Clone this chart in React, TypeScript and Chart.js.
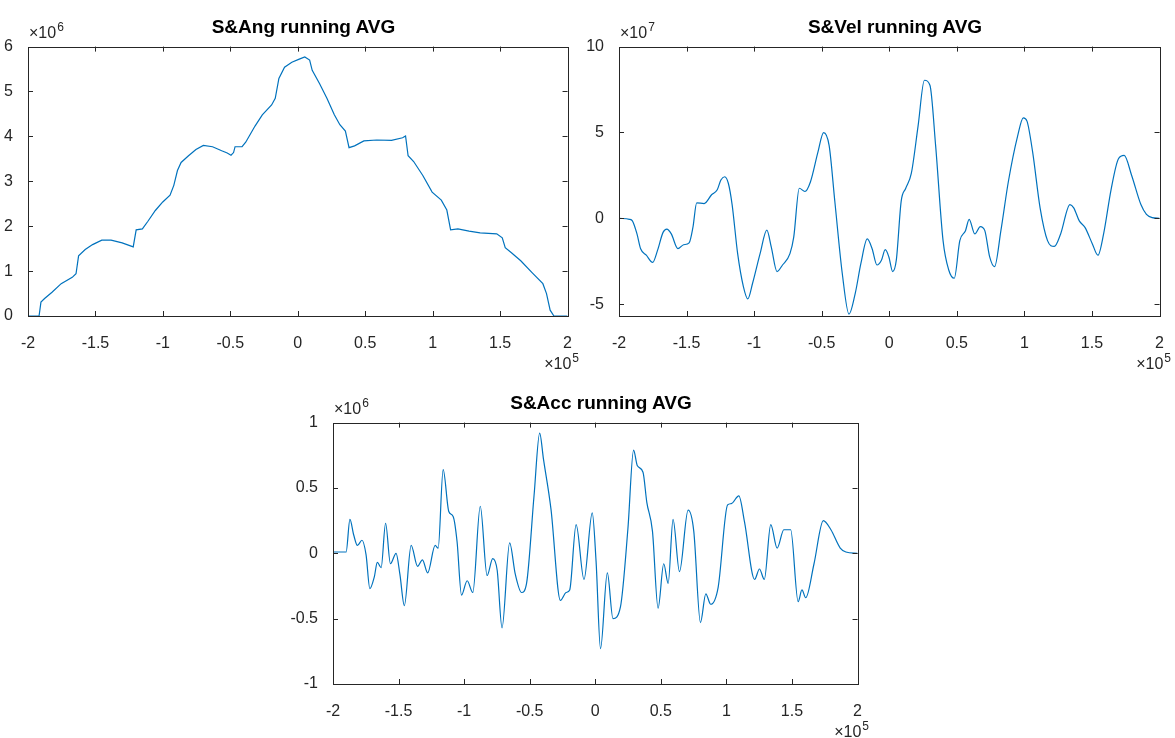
import React, { useEffect, useRef } from "react";
import { Chart, registerables } from "chart.js";

Chart.register(...registerables);

// ---- Data (x in units of 1e5) ----
const angX = [-2, -1.918, -1.904, -1.877, -1.822, -1.754, -1.672, -1.644, -1.625, -1.576, -1.521, -1.453, -1.384, -1.302, -1.22, -1.198, -1.152, -1.111, -1.056, -1.001, -0.947, -0.919, -0.892, -0.865, -0.81, -0.755, -0.7, -0.632, -0.564, -0.523, -0.495, -0.476, -0.465, -0.413, -0.386, -0.317, -0.263, -0.194, -0.167, -0.14, -0.098, -0.044, 0.011, 0.052, 0.088, 0.107, 0.161, 0.216, 0.271, 0.312, 0.353, 0.367, 0.38, 0.421, 0.49, 0.585, 0.695, 0.777, 0.799, 0.818, 0.859, 0.927, 0.996, 1.064, 1.105, 1.133, 1.187, 1.27, 1.352, 1.475, 1.516, 1.538, 1.584, 1.653, 1.735, 1.817, 1.844, 1.871, 1.899, 2];
// y in units of 1e6
const angY = [0, 0, 0.31, 0.39, 0.53, 0.72, 0.86, 0.94, 1.34, 1.48, 1.59, 1.69, 1.69, 1.63, 1.54, 1.92, 1.94, 2.11, 2.35, 2.54, 2.69, 2.91, 3.24, 3.42, 3.57, 3.71, 3.8, 3.77, 3.68, 3.63, 3.58, 3.64, 3.77, 3.77, 3.87, 4.23, 4.48, 4.7, 4.85, 5.29, 5.54, 5.65, 5.72, 5.77, 5.7, 5.47, 5.18, 4.85, 4.48, 4.26, 4.12, 3.93, 3.75, 3.79, 3.9, 3.92, 3.91, 3.97, 4.01, 3.57, 3.44, 3.13, 2.76, 2.58, 2.36, 1.92, 1.94, 1.89, 1.85, 1.83, 1.74, 1.52, 1.41, 1.23, 0.97, 0.72, 0.5, 0.13, 0, 0];

const velX = [-2, -1.923, -1.901, -1.867, -1.84, -1.798, -1.751, -1.715, -1.674, -1.646,
  -1.613, -1.564, -1.522, -1.481, -1.453, -1.425, -1.37, -1.315, -1.273, -1.246,
  -1.218, -1.191, -1.163, -1.122, -1.08, -1.047, -1.011, -0.956, -0.906, -0.873,
  -0.831, -0.79, -0.735, -0.707, -0.666, -0.624, -0.583, -0.528, -0.486, -0.445,
  -0.403, -0.348, -0.298, -0.251, -0.21, -0.163, -0.127, -0.091, -0.058, -0.03,
  -0.003, 0.025, 0.052, 0.088, 0.122, 0.163, 0.213, 0.26, 0.301, 0.343,
  0.398, 0.44, 0.481, 0.522, 0.564, 0.591, 0.633, 0.674, 0.707, 0.743,
  0.779, 0.826, 0.881, 0.95, 0.992, 1.019, 1.061, 1.116, 1.171, 1.221,
  1.268, 1.337, 1.365, 1.406, 1.448, 1.503, 1.544, 1.586, 1.641, 1.696,
  1.738, 1.793, 1.862, 1.903, 1.945, 2];
// y in units of 1e7
const velY = [0, -0.06, -0.15, -0.91, -1.77, -2.15, -2.57, -1.87, -0.82, -0.63,
  -0.91, -1.77, -1.54, -1.43, -0.53, 0.9, 0.86, 1.37, 1.66, 2.23,
  2.42, 2.04, 0.8, -2.06, -3.96, -4.69, -3.77, -2.06, -0.69, -1.68,
  -3.1, -2.72, -2.06, -1.1, 1.75, 1.56, 2.13, 3.85, 4.99, 4.23,
  0.99, -3.2, -5.58, -4.34, -2.63, -1.2, -1.77, -2.72, -2.44, -1.83,
  -2.25, -3.1, -2.44, 0.99, 1.75, 2.61, 5.37, 8.04, 7.75, 4.23,
  -1.3, -3.01, -3.49, -1.3, -0.72, -0.06, -0.91, -0.48, -0.72, -2.25,
  -2.82, -0.72, 2.13, 4.8, 5.85, 5.66, 3.85, 0.61, -1.3, -1.64,
  -0.91, 0.8, 0.61, -0.15, -0.53, -1.49, -2.15, -0.91, 1.66, 3.47,
  3.66, 2.51, 0.8, 0.23, 0.04, 0];

const accX = [-2, -1.9, -1.871, -1.842, -1.814, -1.779, -1.748, -1.719, -1.685, -1.662,
  -1.633, -1.599, -1.562, -1.519, -1.49, -1.456, -1.404, -1.355, -1.318, -1.278,
  -1.221, -1.198, -1.16, -1.117, -1.083, -1.054, -1.02, -0.977, -0.934, -0.877,
  -0.825, -0.782, -0.748, -0.711, -0.653, -0.61, -0.562, -0.524, -0.467, -0.424,
  -0.395, -0.338, -0.266, -0.223, -0.195, -0.146, -0.086, -0.023, 0.006, 0.04,
  0.092, 0.135, 0.192, 0.249, 0.292, 0.321, 0.364, 0.393, 0.436, 0.479,
  0.522, 0.556, 0.593, 0.642, 0.708, 0.751, 0.802, 0.843, 0.88, 0.937,
  1.009, 1.037, 1.095, 1.138, 1.215, 1.252, 1.289, 1.338, 1.387, 1.438,
  1.49, 1.547, 1.576, 1.605, 1.668, 1.739, 1.797, 1.868, 1.911, 2];
// y in units of 1e6
const accY = [0.01, 0.01, 0.26, 0.14, 0.06, 0.1, -0.01, -0.27, -0.18, -0.07,
  -0.11, 0.23, -0.08, 0.0, -0.16, -0.4, 0.06, -0.1, -0.05, -0.15,
  0.06, 0.04, 0.64, 0.32, 0.28, 0.09, -0.32, -0.21, -0.3, 0.36,
  -0.17, -0.04, -0.13, -0.57, 0.08, -0.16, -0.3, -0.23, 0.44, 0.92,
  0.72, 0.34, -0.36, -0.3, -0.28, 0.22, -0.2, 0.31, -0.06, -0.73,
  -0.15, -0.5, -0.41, 0.19, 0.79, 0.67, 0.62, 0.39, 0.17, -0.42,
  -0.08, -0.23, 0.26, -0.14, 0.33, 0.17, -0.53, -0.31, -0.39, -0.26,
  0.37, 0.38, 0.44, 0.24, -0.2, -0.12, -0.2, 0.22, 0.04, 0.18,
  0.18, -0.37, -0.28, -0.34, -0.08, 0.25, 0.18, 0.04, 0.01, 0];

// ---- Tick labels ----
const xTicks = [-2, -1.5, -1, -0.5, 0, 0.5, 1, 1.5, 2];
const angYTicks = [0, 1, 2, 3, 4, 5, 6];
const velYTicks = [-5, 0, 5, 10];
const accYTicks = [-1, -0.5, 0, 0.5, 1];

const titles = ["S&Ang running AVG", "S&Vel running AVG", "S&Acc running AVG"];
const yExponents = ["6", "7", "6"];
const xExponent = "5";

const AXIS_COLOR = "#262626";
const LINE_COLOR = "#0072BD";
const FONT_FAMILY = "'Liberation Sans', Arial, Helvetica, sans-serif";
const TICK_SIZE = 16;

const boxPlugin = {
  id: "matlabBox",
  afterDatasetsDraw(chart: any) {
    const { ctx, chartArea } = chart;
    const { left, right, top, bottom } = chartArea;
    const tl = 5;
    ctx.save();
    ctx.strokeStyle = AXIS_COLOR;
    ctx.lineWidth = 1;
    ctx.beginPath();
    const xs = chart.scales.x;
    xs.ticks.forEach((t: any) => {
      const p = Math.round(xs.getPixelForValue(t.value)) + 0.5;
      if (p <= left + 1 || p >= right - 1) return;
      ctx.moveTo(p, bottom);
      ctx.lineTo(p, bottom - tl);
      ctx.moveTo(p, top);
      ctx.lineTo(p, top + tl);
    });
    const ys = chart.scales.y;
    ys.ticks.forEach((t: any) => {
      const p = Math.round(ys.getPixelForValue(t.value)) + 0.5;
      if (p <= top + 1 || p >= bottom - 1) return;
      ctx.moveTo(left, p);
      ctx.lineTo(left + tl, p);
      ctx.moveTo(right, p);
      ctx.lineTo(right - tl, p);
    });
    ctx.stroke();
    ctx.strokeRect(Math.round(left) + 0.5, Math.round(top) + 0.5, Math.round(right - left), Math.round(bottom - top));
    ctx.restore();
  },
};

type PanelProps = {
  L: number; T: number; W: number; H: number; PL: number;
  xs: number[]; ys: number[]; yMin: number; yMax: number; yTicks: number[];
  smooth: boolean; title: string; yExp: string;
};

const PT = 12;
const PR = 3;
const PB = 40;

function Panel(p: PanelProps) {
  const ref = useRef<HTMLCanvasElement | null>(null);
  const cw = p.PL + p.W + PR;
  const ch = PT + p.H + PB;
  useEffect(() => {
    if (!ref.current) return;
    const n = Math.min(p.xs.length, p.ys.length);
    const pts = [] as { x: number; y: number }[];
    for (let i = 0; i < n; i++) pts.push({ x: p.xs[i], y: p.ys[i] });
    const tickFont = { family: FONT_FAMILY, size: TICK_SIZE };
    const chart = new Chart(ref.current, {
      type: "line",
      data: {
        datasets: [
          {
            data: pts,
            borderColor: LINE_COLOR,
            borderWidth: 1.2,
            pointRadius: 0,
            fill: false,
            tension: 0,
            cubicInterpolationMode: p.smooth ? "monotone" : "default",
          } as any,
        ],
      },
      options: {
        animation: false,
        responsive: false,
        maintainAspectRatio: false,
        events: [],
        layout: { autoPadding: false, padding: { left: 0, top: PT, right: PR, bottom: 0 } } as any,
        plugins: { legend: { display: false }, tooltip: { enabled: false }, title: { display: false } },
        scales: {
          x: {
            type: "linear",
            min: -2,
            max: 2,
            afterBuildTicks: (s: any) => { s.ticks = xTicks.map((v) => ({ value: v })); },
            afterFit: (s: any) => { s.height = PB; },
            ticks: { callback: (v: any) => String(v), font: tickFont, color: AXIS_COLOR, padding: 10, maxRotation: 0, autoSkip: false },
            grid: { display: false },
            border: { display: false },
          },
          y: {
            type: "linear",
            min: p.yMin,
            max: p.yMax,
            afterBuildTicks: (s: any) => { s.ticks = p.yTicks.map((v) => ({ value: v })); },
            afterFit: (s: any) => { s.width = p.PL; },
            ticks: { callback: (v: any) => String(v), font: tickFont, color: AXIS_COLOR, padding: 7, autoSkip: false },
            grid: { display: false },
            border: { display: false },
          },
        },
      } as any,
      plugins: [boxPlugin],
    });
    return () => chart.destroy();
  }, []);

  const textStyle: React.CSSProperties = {
    position: "absolute",
    fontFamily: FONT_FAMILY,
    color: AXIS_COLOR,
    lineHeight: "16px",
    fontSize: 16,
    whiteSpace: "nowrap",
  };
  const supStyle: React.CSSProperties = { fontSize: 12, position: "relative", top: -7, marginLeft: 1 };

  return (
    <>
      <canvas
        ref={ref}
        width={cw}
        height={ch}
        style={{ position: "absolute", left: p.L - p.PL, top: p.T - PT, width: cw, height: ch }}
      />
      <div
        style={{
          position: "absolute",
          left: p.L,
          width: p.W,
          top: p.T - 25,
          textAlign: "center",
          fontFamily: FONT_FAMILY,
          fontWeight: "bold",
          fontSize: 19,
          lineHeight: "19px",
          color: "#000",
          whiteSpace: "nowrap",
        }}
      >
        {p.title}
      </div>
      <div style={{ ...textStyle, left: p.L + 1, top: p.T - 17 }}>
        ×10<span style={supStyle}>{p.yExp}</span>
      </div>
      <div style={{ ...textStyle, left: p.L + p.W - 80, width: 80, textAlign: "right", top: p.T + p.H + 40 }}>
        ×10<span style={supStyle}>{xExponent}</span>
      </div>
    </>
  );
}

export default function App() {
  return (
    <div style={{ position: "absolute", left: 0, top: 0, width: 1175, height: 738, background: "#fff", overflow: "hidden" }}>
      <Panel L={28} T={42} W={551} H={274} PL={28} xs={angX} ys={angY} yMin={0} yMax={6} yTicks={angYTicks} smooth={false} title={titles[0]} yExp={yExponents[0]} />
      <Panel L={619} T={42} W={552} H={274} PL={40} xs={velX} ys={velY} yMin={-5.69} yMax={10} yTicks={velYTicks} smooth={true} title={titles[1]} yExp={yExponents[1]} />
      <Panel L={333} T={418} W={536} H={266} PL={45} xs={accX} ys={accY} yMin={-1} yMax={1} yTicks={accYTicks} smooth={true} title={titles[2]} yExp={yExponents[2]} />
    </div>
  );
}
